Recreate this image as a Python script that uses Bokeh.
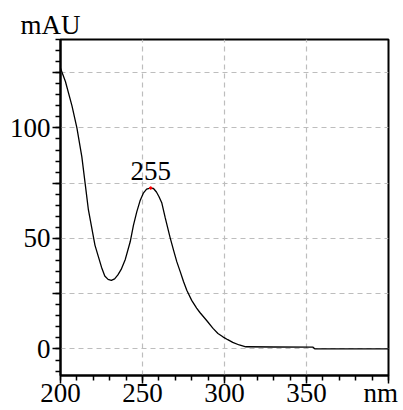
from bokeh.plotting import figure
from bokeh.models import FixedTicker, Label, Range1d
from bokeh.embed import file_html
from bokeh.resources import INLINE

# spectrum (wavelength nm, absorbance mAU)
wavelength = [200, 203, 207, 210, 213, 215, 217, 219, 221, 223, 225, 227, 229, 231, 233,
              235, 237, 239.5, 242.5, 244.5, 246.5, 248.5, 250.5, 252.5, 254.7, 256.7,
              258.5, 260, 261.8, 263.8, 266.8, 269, 270.9, 273, 275, 277, 280, 283, 285,
              289, 293, 296, 299, 302, 305, 309, 313, 330, 354, 355, 399.8]
absorbance = [127, 121, 110, 100, 87, 75, 63, 55, 47, 42, 37, 33, 31.5, 31, 31.7,
              33.5, 36, 40.5, 48.5, 56, 62, 67, 70.5, 72.3, 72.8, 72.6,
              71, 69, 66, 59.5, 50.5, 44.5, 39.5, 35, 30.5, 26.6, 22, 18.5, 16.5,
              13, 9.3, 7, 5.5, 4.2, 3.0, 1.8, 1.0, 0.9, 0.8, 0.1, 0.0]

peak_nm = [255]
peak_mau = [72.8]

x_ticks = [200, 250, 300, 350, 400]
x_tick_labels = {200: "200", 250: "250", 300: "300", 350: "350", 400: "nm\u2009"}
x_minor = list(range(200, 401, 10))
y_ticks = [0, 25, 50, 75, 100, 125]
y_tick_labels = {0: "0", 25: "", 50: "50", 75: "", 100: "100", 125: ""}
y_minor = list(range(-10, 141, 5))
y_unit = "mAU"

FONT = "Liberation Serif"
FS = "27px"

p = figure(width=403, height=410, output_backend="svg", toolbar_location=None,
           x_range=Range1d(200, 400), y_range=Range1d(-12, 140), title=y_unit,
           min_border_left=60, min_border_right=15, min_border_top=39, min_border_bottom=35)
p.background_fill_color = "white"
p.border_fill_color = "white"
p.outline_line_color = "black"
p.outline_line_width = 2

p.title.text_font = FONT
p.title.text_font_size = FS
p.title.text_font_style = "normal"
p.title.text_color = "black"
p.title.align = "left"
p.title.offset = -40
p.title.standoff = 0

for ax in (p.xaxis[0], p.yaxis[0]):
    ax.axis_line_color = "black"
    ax.axis_line_width = 2
    ax.major_tick_line_color = "black"
    ax.minor_tick_line_color = "black"
    ax.major_tick_line_width = 1.5
    ax.minor_tick_line_width = 1.5
    ax.major_tick_out = 8
    ax.major_tick_in = 0
    ax.minor_tick_out = 5
    ax.minor_tick_in = 0
    ax.major_label_text_font = FONT
    ax.major_label_text_font_size = FS
    ax.major_label_text_color = "black"

p.xaxis[0].ticker = FixedTicker(ticks=x_ticks, minor_ticks=x_minor)
p.xaxis[0].major_label_overrides = x_tick_labels
p.xaxis[0].major_label_standoff = -6
p.yaxis[0].ticker = FixedTicker(ticks=y_ticks, minor_ticks=y_minor)
p.yaxis[0].major_label_overrides = y_tick_labels
p.yaxis[0].major_label_standoff = 2

for g in (p.xgrid[0], p.ygrid[0]):
    g.grid_line_color = "#bdbdbd"
    g.grid_line_dash = "5 4"
    g.grid_line_width = 1.2

p.line(wavelength, absorbance, line_color="black", line_width=1.3)
p.scatter(peak_nm, peak_mau, size=2.5, color="red")

p.add_layout(Label(x=peak_nm[0], y=peak_mau[0], text=str(peak_nm[0]), text_align="center",
                   text_baseline="alphabetic", y_offset=17, text_font=FONT, text_font_size=FS,
                   text_color="black"))

open("out.html", "w").write(file_html(p, INLINE))
